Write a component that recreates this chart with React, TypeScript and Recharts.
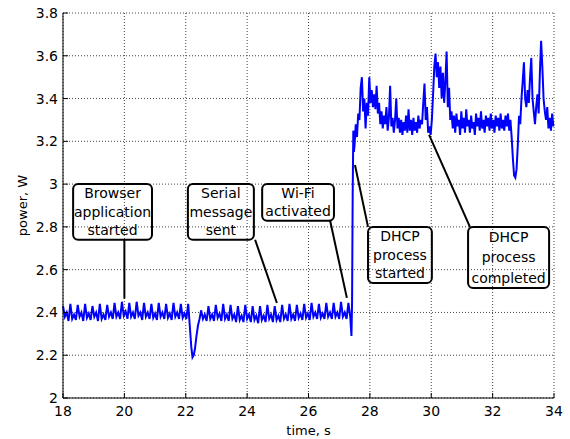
import React from "react";
import {
  LineChart,
  Line,
  XAxis,
  YAxis,
  CartesianGrid,
  ReferenceArea,
  ReferenceLine,
} from "recharts";

const xTicks = [18, 20, 22, 24, 26, 28, 30, 32, 34];
const yTicks = [2, 2.2, 2.4, 2.6, 2.8, 3, 3.2, 3.4, 3.6, 3.8];

// idle ripple before the serial dip, sampled every 0.06 s from 18.00 s
const idlePowerA = [
  2.43, 2.38, 2.4, 2.36, 2.44, 2.37, 2.39, 2.365, 2.435, 2.38, 2.4, 2.36,
  2.44, 2.375, 2.395, 2.365, 2.43, 2.38, 2.4, 2.36, 2.44, 2.37, 2.39, 2.365,
  2.435, 2.38, 2.4, 2.37, 2.445, 2.38, 2.4, 2.37, 2.45, 2.385, 2.405, 2.37,
  2.445, 2.38, 2.4, 2.37, 2.45, 2.385, 2.4, 2.365, 2.445, 2.38, 2.4, 2.37,
  2.44, 2.375, 2.395, 2.365, 2.445, 2.38, 2.4, 2.37, 2.44, 2.375, 2.395, 2.365,
  2.445, 2.38, 2.4, 2.37, 2.44, 2.375, 2.395, 2.37, 2.44,
];

const dipTimes = [22.13, 22.18, 22.22, 22.26, 22.3, 22.35, 22.4, 22.45];
const dipPower = [2.34, 2.24, 2.19, 2.2, 2.23, 2.29, 2.34, 2.37];

// idle ripple after the dip, every 0.06 s from 22.50 s
const idlePowerC = [
  2.41, 2.37, 2.39, 2.36, 2.43, 2.37, 2.39, 2.36, 2.435, 2.375, 2.395, 2.36,
  2.44, 2.37, 2.39, 2.36, 2.435, 2.37, 2.39, 2.355, 2.43, 2.365, 2.385, 2.355,
  2.435, 2.37, 2.39, 2.355, 2.43, 2.365, 2.385, 2.35, 2.43, 2.365, 2.385, 2.355,
  2.435, 2.37, 2.39, 2.355, 2.43, 2.365, 2.385, 2.355, 2.435, 2.37, 2.39, 2.36,
  2.44, 2.37, 2.39, 2.36, 2.435, 2.375, 2.395, 2.365, 2.44, 2.375, 2.395, 2.365,
  2.445, 2.38, 2.4, 2.37, 2.44, 2.375, 2.395, 2.37, 2.445, 2.38, 2.4, 2.37,
  2.445, 2.38, 2.4, 2.37, 2.45, 2.38, 2.4, 2.37, 2.445, 2.38,
];

const jumpTimes = [27.4, 27.42, 27.44, 27.46, 27.48];
const jumpPower = [2.29, 2.45, 2.95, 3.25, 3.15];

// wi-fi on, every 0.04 s from 27.50 s
const wifiPowerA = [
  3.18, 3.28, 3.22, 3.33, 3.3, 3.45, 3.5, 3.34, 3.4, 3.26, 3.38, 3.32, 3.5,
  3.38, 3.44, 3.36, 3.42, 3.35, 3.46, 3.33, 3.38, 3.28, 3.34, 3.26, 3.32, 3.28,
  3.36, 3.25, 3.31, 3.46, 3.27, 3.31, 3.24, 3.3, 3.4, 3.26, 3.31, 3.24, 3.3,
  3.23, 3.29, 3.25, 3.32, 3.24, 3.35, 3.25, 3.3, 3.23, 3.31, 3.25, 3.29, 3.24,
  3.32, 3.26, 3.3, 3.28, 3.38, 3.47, 3.3, 3.36, 3.24, 3.27, 3.23, 3.3, 3.42,
  3.55, 3.61, 3.5, 3.57, 3.45, 3.55, 3.4, 3.52, 3.38, 3.48, 3.62, 3.36, 3.45,
  3.3, 3.34,
];

// every 0.04 s from 30.70 s
const wifiPowerB = [
  3.26, 3.32, 3.24, 3.33, 3.27, 3.3, 3.23, 3.34, 3.26, 3.31, 3.24, 3.35, 3.27,
  3.3, 3.24, 3.32, 3.26, 3.29, 3.23, 3.33, 3.27, 3.31, 3.25, 3.34, 3.26, 3.3,
  3.24, 3.32, 3.27, 3.31, 3.25, 3.33, 3.26, 3.3, 3.24, 3.32, 3.27, 3.31, 3.25,
  3.33, 3.26, 3.3, 3.25, 3.32, 3.27, 3.33, 3.25, 3.3,
];

// every 0.04 s from 32.62 s
const wifiPowerC = [
  3.22, 3.12, 3.04, 3.03, 3.07, 3.18, 3.32, 3.28, 3.4, 3.48, 3.57, 3.4, 3.36,
  3.44, 3.38, 3.5, 3.59, 3.4, 3.34, 3.28, 3.36, 3.42, 3.33, 3.52, 3.67, 3.55,
  3.4, 3.34, 3.3, 3.36, 3.26, 3.31, 3.25, 3.33, 3.27,
];

const sampled = (t0: number, dt: number, values: number[]) =>
  values.map((v, i) => ({ t: +(t0 + i * dt).toFixed(3), p: v }));
const paired = (times: number[], values: number[]) =>
  values.map((v, i) => ({ t: times[i], p: v }));

const data = [
  ...sampled(18, 0.06, idlePowerA),
  ...paired(dipTimes, dipPower),
  ...sampled(22.5, 0.06, idlePowerC),
  ...paired(jumpTimes, jumpPower),
  ...sampled(27.5, 0.04, wifiPowerA),
  ...sampled(30.7, 0.04, wifiPowerB),
  ...sampled(32.62, 0.04, wifiPowerC),
];

// callouts, in axis units
const notes = [
  { lines: ["Browser", "application", "started"], x1: 18.33, x2: 20.9, y1: 2.74, y2: 3.0, from: [20, 2.74], to: [20, 2.465] },
  { lines: ["Serial", "message", "sent"], x1: 22.07, x2: 24.22, y1: 2.74, y2: 3.0, from: [24.26, 2.74], to: [24.97, 2.444] },
  { lines: ["Wi-Fi", "activated"], x1: 24.49, x2: 26.83, y1: 2.829, y2: 3.0, from: [26.7, 2.832], to: [27.25, 2.468] },
  { lines: ["DHCP", "process", "started"], x1: 27.94, x2: 30.02, y1: 2.538, y2: 2.8, from: [27.515, 3.089], to: [27.94, 2.8] },
  { lines: ["DHCP", "process", "completed"], x1: 31.2, x2: 33.84, y1: 2.514, y2: 2.8, from: [29.93, 3.23], to: [31.26, 2.8] },
];

const font = "'DejaVu Sans', sans-serif";

const noteBox = (lines: string[]) => (props: any) => {
  const { x, y, width, height } = props;
  const step = height / lines.length;
  return (
    <g>
      <rect x={x} y={y} width={width} height={height} rx={5} ry={5} fill="none" stroke="#000" strokeWidth={2} />
      {lines.map((s, i) => (
        <text
          key={i}
          x={x + width / 2}
          y={y + step * (i + 0.5)}
          dy="0.35em"
          textAnchor="middle"
          fontFamily={font}
          fontSize={14}
          fill="#000"
        >
          {s}
        </text>
      ))}
    </g>
  );
};

export default function App() {
  const tick = { fill: "#000", fontSize: 14, fontFamily: font };
  return (
    <div style={{ position: "absolute", left: 0, top: 0, width: 570, height: 439, background: "#fff" }}>
      <LineChart width={570} height={439} data={data} margin={{ top: 13, right: 16, bottom: 0, left: 0 }}>
        <CartesianGrid stroke="#444" strokeDasharray="1 2" />
        <XAxis
          dataKey="t"
          type="number"
          domain={[18, 34]}
          ticks={xTicks}
          height={41}
          tick={tick}
          tickSize={-5}
          tickMargin={13}
          stroke="#000"
          label={{ value: "time, s", position: "insideBottom", offset: 4, fill: "#000", fontSize: 13, fontFamily: font }}
        />
        <XAxis
          xAxisId="top"
          orientation="top"
          type="number"
          domain={[18, 34]}
          ticks={xTicks}
          height={0}
          tick={() => <g />}
          tickSize={-5}
          stroke="#000"
        />
        <YAxis
          type="number"
          domain={[2, 3.8]}
          ticks={yTicks}
          width={63}
          tick={tick}
          tickSize={-5}
          tickMargin={10}
          tickFormatter={(v) => String(v)}
          stroke="#000"
          label={{ value: "power, W", angle: -90, position: "center", dx: -9, fill: "#000", fontSize: 13, fontFamily: font }}
        />
        <YAxis
          yAxisId="right"
          orientation="right"
          type="number"
          domain={[2, 3.8]}
          ticks={yTicks}
          width={0}
          tick={() => <g />}
          tickSize={-5}
          stroke="#000"
        />
        <Line
          type="linear"
          dataKey="p"
          stroke="#0000ff"
          strokeWidth={2}
          strokeLinejoin="miter"
          dot={false}
          isAnimationActive={false}
        />
        {notes.map((n, i) => (
          <ReferenceLine
            key={"l" + i}
            segment={[
              { x: n.from[0], y: n.from[1] },
              { x: n.to[0], y: n.to[1] },
            ]}
            stroke="#000"
            strokeWidth={2}
          />
        ))}
        {notes.map((n, i) => (
          <ReferenceArea key={"b" + i} x1={n.x1} x2={n.x2} y1={n.y1} y2={n.y2} shape={noteBox(n.lines)} />
        ))}
      </LineChart>
    </div>
  );
}
